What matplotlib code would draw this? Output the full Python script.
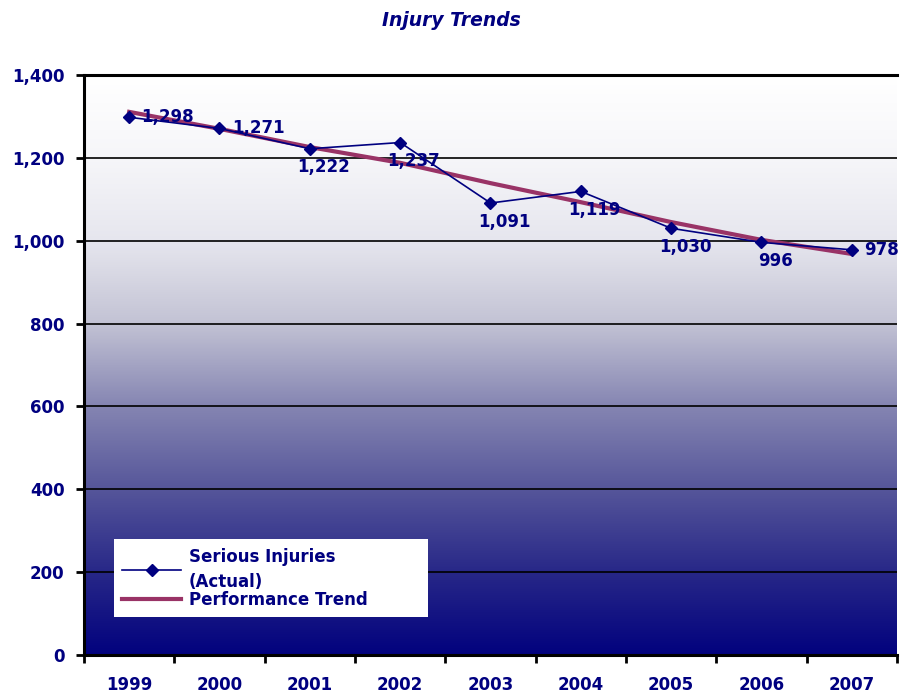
import matplotlib
matplotlib.use("Agg")
import matplotlib.pyplot as plt
import numpy as np
from matplotlib.colors import LinearSegmentedColormap

years = ["1999", "2000", "2001", "2002", "2003", "2004", "2005", "2006", "2007"]
actual = [1298, 1271, 1222, 1237, 1091, 1119, 1030, 996, 978]
trend = [1311, 1270, 1226, 1188, 1139, 1093, 1045, 1002, 968]
yticks = [0, 200, 400, 600, 800, 1000, 1200, 1400]
label_pos = ["right", "right", "below", "below", "below", "below", "below", "below", "right"]

navy = "#000080"
maroon = "#993366"

fig = plt.figure(figsize=(9.04, 7.0), dpi=100)
ax = fig.add_axes([84/904, 45/700, (897-84)/904, (655-75)/700])

cmap = LinearSegmentedColormap.from_list("bg", [
    (0.0, "#02027e"), (0.143, "#282888"), (0.286, "#56569a"),
    (0.429, "#8585b2"), (0.571, "#c2c2d4"), (0.714, "#e6e6ee"),
    (0.86, "#f6f6f9"), (1.0, "#ffffff")])
grad = np.linspace(0, 1, 256).reshape(-1, 1)
ax.imshow(grad, extent=[0, 1, 0, 1], transform=ax.transAxes, aspect="auto",
          cmap=cmap, origin="lower", zorder=0)

x = np.arange(len(years))
ax.set_xlim(-0.5, len(years) - 0.5)
ax.set_ylim(0, 1400)

for v in yticks[1:-1]:
    ax.axhline(v, color="black", lw=1.2, zorder=1)

ax.plot(x, trend, color=maroon, lw=3, zorder=3, label="Performance Trend")
ax.plot(x, actual, color=navy, lw=1.2, marker="D", markersize=6, zorder=4,
        label="Serious Injuries\n(Actual)")

for xi, v, p in zip(x, actual, label_pos):
    s = f"{v:,}"
    if p == "right":
        ax.annotate(s, (xi, v), xytext=(9, 0), textcoords="offset points",
                    ha="left", va="center", color=navy, fontsize=12, fontweight="bold", zorder=5)
    else:
        ax.annotate(s, (xi, v), xytext=(10, -7), textcoords="offset points",
                    ha="center", va="top", color=navy, fontsize=12, fontweight="bold", zorder=5)

ax.set_yticks(yticks)
ax.set_yticklabels([f"{v:,}" for v in yticks])
ax.set_xticks(x)
ax.set_xticklabels(years)
ax.set_xticks(np.arange(-0.5, len(years)), minor=True)
ax.tick_params(axis="x", which="major", length=0, pad=15, labelsize=12, labelcolor=navy)
ax.tick_params(axis="x", which="minor", length=6, width=2, color="black")
ax.tick_params(axis="y", length=6, width=2, color="black", pad=8, labelsize=12, labelcolor=navy)
for t in ax.get_xticklabels() + ax.get_yticklabels():
    t.set_fontweight("bold")

for s in ["left", "bottom", "top"]:
    ax.spines[s].set_linewidth(2.2)
    ax.spines[s].set_color("black")
ax.spines["right"].set_visible(False)

fig.text(451/904, 1 - 21/700, "Injury Trends", ha="center", va="center",
         color=navy, fontsize=13.5, fontweight="bold", fontstyle="italic")

h, l = ax.get_legend_handles_labels()
leg = ax.legend([h[1], h[0]], [l[1], l[0]], loc="lower left",
                bbox_to_anchor=((114-84)/813, (655-617)/580, (428-114)/813, 80/580),
                mode="expand", frameon=True, fancybox=False, framealpha=1, edgecolor="white",
                borderpad=0.5, handlelength=3.5, handletextpad=0.5, labelspacing=0.0,
                borderaxespad=0, prop={"weight": "bold", "size": 12})
leg.get_frame().set_linewidth(0)
leg.set_zorder(10)
for t in leg.get_texts():
    t.set_color(navy)
    t.set_linespacing(1.5)

fig.savefig("out.png", dpi=100)
